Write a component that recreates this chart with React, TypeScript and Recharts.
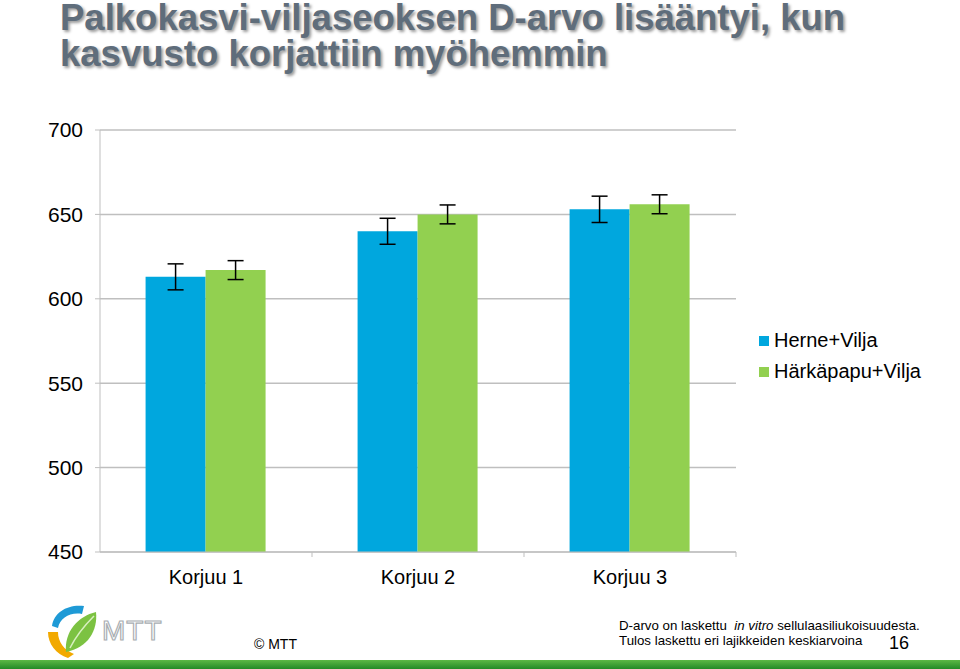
import { BarChart, Bar, XAxis, YAxis, CartesianGrid, ErrorBar } from "recharts";

const categories = ["Korjuu 1", "Korjuu 2", "Korjuu 3"];
const herne = [613, 640, 653];
const harka = [617, 650, 656];
const herneErr = [7.7, 7.7, 7.8];
const harkaErr = [5.6, 5.6, 5.6];
const yTicks = [450, 500, 550, 600, 650, 700];

const seriesNames = ["Herne+Vilja", "Härkäpapu+Vilja"];
const BLUE = "#00a7de";
const GREEN = "#92d050";
const GRID = "#bfbfbf";

const data = categories.map((c, i) => ({
    name: c,
    herne: herne[i],
    harka: harka[i],
    herneErr: herneErr[i],
    harkaErr: harkaErr[i],
}));

const XTick = (props: any) => {
    const { x, y, payload, width, visibleTicksCount } = props;
    const half = width / visibleTicksCount / 2;
    return (
        <g>
            <line x1={x + half} y1={y - 8} x2={x + half} y2={y - 3} stroke={GRID} />
            <text x={x} y={y + 24} textAnchor="middle" fontSize={20} fill="#000" fontFamily="Arial, 'Liberation Sans', sans-serif">
                {payload.value}
            </text>
        </g>
    );
};

function LegendBox() {
    return (
        <div style={{ position: "absolute", left: 759, top: 325, fontSize: 20, color: "#000", whiteSpace: "nowrap" }}>
            {seriesNames.map((n, i) => (
                <div key={n} style={{ display: "flex", alignItems: "center", height: 31 }}>
                    <span style={{ width: 10, height: 10, background: i === 0 ? BLUE : GREEN, marginRight: 5, display: "inline-block" }} />
                    <span>{n}</span>
                </div>
            ))}
        </div>
    );
}

function Logo() {
    return (
        <svg width={130} height={58} style={{ position: "absolute", left: 44, top: 602 }}>
            <path d="M 8 24 C 10 10, 24 2, 40 4 L 38 12 C 26 10, 16 16, 14 26 Z" fill="#1e9ad6" />
            <path d="M 4 30 L 14 30 C 14 40, 20 48, 30 52 L 24 56 C 12 52, 4 42, 4 30 Z" fill="#f2a900" />
            <path d="M 22 50 C 20 30, 34 14, 52 10 C 54 28, 44 46, 22 50 Z" fill="#7cc242" />
            <path d="M 26 46 C 32 34, 40 24, 50 14" stroke="#d8efc0" strokeWidth={1.5} fill="none" />
            <text x={58} y={38} fontSize={28} fill="#fff" stroke="#a9aeb2" strokeWidth={1.2} fontFamily="Arial, sans-serif" letterSpacing={1}>
                MTT
            </text>
        </svg>
    );
}

export default function App() {
    return (
        <div style={{ position: "absolute", left: 0, top: 0, width: 960, height: 669, background: "#fff", overflow: "hidden", fontFamily: "Arial, 'Liberation Sans', sans-serif" }}>
            <div
                style={{
                    position: "absolute",
                    left: 60,
                    top: 0,
                    fontSize: 36.5,
                    lineHeight: "36px",
                    fontWeight: "bold",
                    color: "#5f6d7b",
                    textShadow: "2px 2px 3px rgba(0,0,0,0.4)",
                    whiteSpace: "nowrap",
                }}
            >
                <div>Palkokasvi-viljaseoksen D-arvo lisääntyi, kun</div>
                <div>kasvusto korjattiin myöhemmin</div>
            </div>

            <div style={{ position: "absolute", left: 0, top: 0 }}>
                <BarChart width={960} height={669} data={data} margin={{ top: 130, right: 224, bottom: 77, left: 40 }} barCategoryGap="21.5%" barGap={0}>
                    <CartesianGrid vertical={false} stroke={GRID} strokeWidth={1.5} />
                    <XAxis dataKey="name" stroke={GRID} tickLine={false} height={40} tick={<XTick />} interval={0} />
                    <YAxis
                        domain={[450, 700]}
                        ticks={yTicks}
                        width={60}
                        stroke={GRID}
                        tickSize={5}
                        tickMargin={12}
                        tick={{ fill: "#000", fontSize: 21 }}
                        interval={0}
                    />
                    <Bar dataKey="herne" name={seriesNames[0]} fill={BLUE} isAnimationActive={false}>
                        <ErrorBar dataKey="herneErr" width={8} stroke="#000" strokeWidth={1.5} direction="y" />
                    </Bar>
                    <Bar dataKey="harka" name={seriesNames[1]} fill={GREEN} isAnimationActive={false}>
                        <ErrorBar dataKey="harkaErr" width={8} stroke="#000" strokeWidth={1.5} direction="y" />
                    </Bar>
                </BarChart>
            </div>

            <LegendBox />
            <Logo />
            <div style={{ position: "absolute", left: 254, top: 636, fontSize: 14, color: "#000" }}>© MTT</div>
            <div style={{ position: "absolute", left: 619, top: 618, fontSize: 13.3, lineHeight: "15px", color: "#000", whiteSpace: "nowrap" }}>
                <div>
                    D-arvo on laskettu&nbsp; <i>in vitro</i> sellulaasiliukoisuudesta.
                </div>
                <div>Tulos laskettu eri lajikkeiden keskiarvoina</div>
            </div>
            <div style={{ position: "absolute", left: 889, top: 633, fontSize: 18, color: "#000" }}>16</div>
            <div style={{ position: "absolute", left: 0, top: 660, width: 960, height: 9, background: "linear-gradient(#5cb845, #238a26)" }} />
        </div>
    );
}
